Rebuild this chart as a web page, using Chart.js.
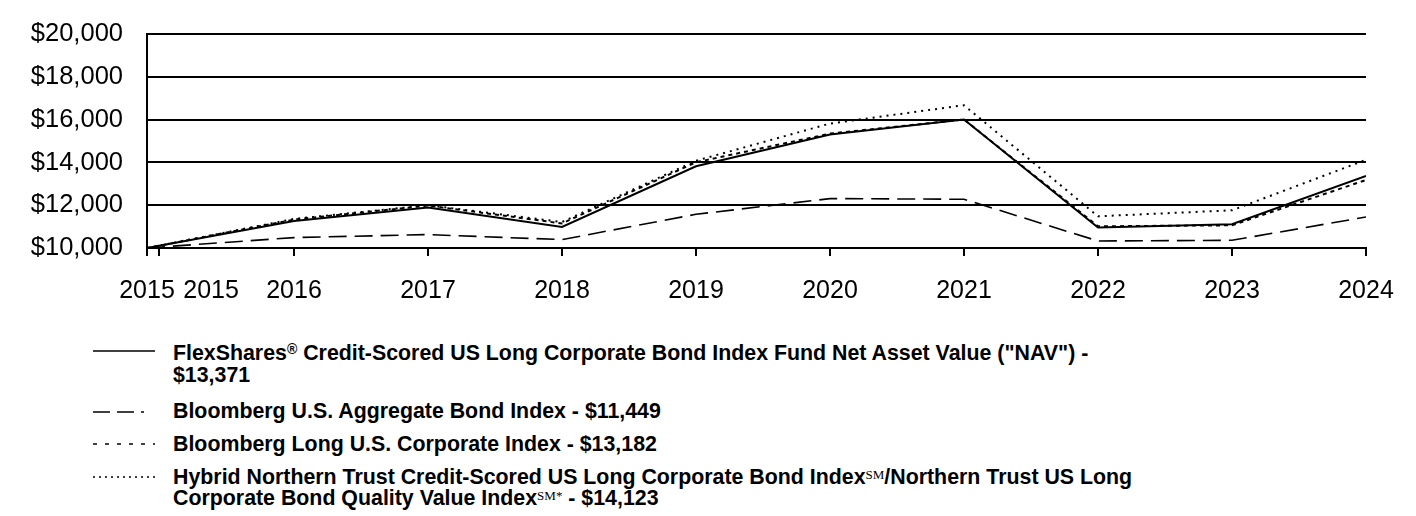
<!DOCTYPE html>
<html>
<head>
<meta charset="utf-8">
<script src="https://cdn.jsdelivr.net/npm/chart.js@4/dist/chart.umd.min.js"></script>
<style>
  html, body { margin: 0; padding: 0; background: #fff; }
  body { width: 1416px; height: 516px; position: relative; overflow: hidden;
         font-family: Arial, "Liberation Sans", sans-serif; color: #000; }
  #wrap { position: absolute; left: 0; top: 0; width: 1416px; height: 320px; }
  .leg { position: absolute; left: 173px; font-weight: bold; font-size: 21.35px; line-height: 21px; white-space: nowrap; }
  .smp { position: absolute; left: 93px; width: 62px; height: 6px; }
  .sm { font-family: "Liberation Serif", "Times New Roman", serif; font-size: 13px; vertical-align: 5px; font-weight: normal; line-height: 0; }
  sup.r { font-size: 14px; vertical-align: 6px; line-height: 0; }
</style>
</head>
<body>
<div id="wrap"><canvas id="c"></canvas></div>

<svg class="smp" style="top:348px" viewBox="0 0 62 6"><line x1="0" y1="3" x2="62" y2="3" stroke="#000" stroke-width="1.6"/></svg>
<div class="leg" style="top:342px; line-height:22px">FlexShares<sup class="r">®</sup> Credit-Scored US Long Corporate Bond Index Fund Net Asset Value ("NAV") -<br>$13,371</div>

<svg class="smp" style="top:409px" viewBox="0 0 62 6"><line x1="0" y1="3" x2="62" y2="3" stroke="#000" stroke-width="1.6" stroke-dasharray="17 7 17 7 3 20"/></svg>
<div class="leg" style="top:401px">Bloomberg U.S. Aggregate Bond Index - $11,449</div>

<svg class="smp" style="top:441px" viewBox="0 0 62 6"><line x1="0" y1="3" x2="62" y2="3" stroke="#000" stroke-width="1.6" stroke-dasharray="4 8"/></svg>
<div class="leg" style="top:434px">Bloomberg Long U.S. Corporate Index - $13,182</div>

<svg class="smp" style="top:474px" viewBox="0 0 62 6"><line x1="0" y1="3" x2="62" y2="3" stroke="#000" stroke-width="1.6" stroke-dasharray="2 4"/></svg>
<div class="leg" style="top:467px">Hybrid Northern Trust Credit-Scored US Long Corporate Bond Index<span class="sm">SM</span>/Northern Trust US Long<br>Corporate Bond Quality Value Index<span class="sm">SM*</span> - $14,123</div>

<script>
// ---- data ----
const xYears = [2014.903, 2016, 2017, 2018, 2019, 2020, 2021, 2022, 2023, 2024];
const navValues = [10000, 11263, 11890, 10983, 13823, 15306, 16008, 10954, 11109, 13371];
const aggregateValues = [10000, 10487, 10627, 10393, 11577, 12311, 12279, 10328, 10360, 11449];
const longCorpValues = [10000, 11329, 11984, 11150, 14010, 15350, 16010, 11015, 11062, 13182];
const hybridValues = [10000, 11360, 12000, 11217, 14080, 15821, 16678, 11483, 11764, 14123];
const tickValues = [2014.903, 2014.993, 2015.381, 2016, 2017, 2018, 2019, 2020, 2021, 2022, 2023, 2024];
const tickLabels = ['2015', '', '2015', '2016', '2017', '2018', '2019', '2020', '2021', '2022', '2023', '2024'];
const seriesNames = [
  'FlexShares® Credit-Scored US Long Corporate Bond Index Fund Net Asset Value ("NAV") - $13,371',
  'Bloomberg U.S. Aggregate Bond Index - $11,449',
  'Bloomberg Long U.S. Corporate Index - $13,182',
  'Hybrid Northern Trust Credit-Scored US Long Corporate Bond Index℠/Northern Trust US Long Corporate Bond Quality Value Index℠* - $14,123'
];

const pts = vals => vals.map((v, i) => ({ x: xYears[i], y: v }));

Chart.defaults.font.family = 'Arial, "Liberation Sans", sans-serif';
Chart.defaults.font.size = 25;
Chart.defaults.color = '#000';

new Chart(document.getElementById('c'), {
  type: 'line',
  data: {
    datasets: [
      { label: seriesNames[0], data: pts(navValues), borderColor: '#000', borderWidth: 2, pointRadius: 0, tension: 0 },
      { label: seriesNames[1], data: pts(aggregateValues), borderColor: '#000', borderWidth: 1.6, borderDash: [18, 8], pointRadius: 0, tension: 0 },
      { label: seriesNames[2], data: pts(longCorpValues), borderColor: '#000', borderWidth: 2, borderDash: [4, 4], pointRadius: 0, tension: 0 },
      { label: seriesNames[3], data: pts(hybridValues), borderColor: '#000', borderWidth: 2, borderDash: [2, 5], pointRadius: 0, tension: 0 }
    ]
  },
  options: {
    responsive: true,
    maintainAspectRatio: false,
    animation: false,
    layout: { padding: { top: 20, right: 50, left: 0, bottom: 0 } },
    plugins: { legend: { display: false }, tooltip: { enabled: false } },
    scales: {
      x: {
        type: 'linear',
        min: xYears[0],
        max: 2024,
        afterBuildTicks: s => { s.ticks = tickValues.map(v => ({ value: v })); },
        afterFit: s => { s.height = 72; },
        ticks: {
          autoSkip: false, maxRotation: 0, padding: 20,
          callback: (v, i) => tickLabels[i]
        },
        grid: {
          drawOnChartArea: false, drawTicks: true, tickLength: 8, lineWidth: 2,
          color: '#000',
          tickColor: ctx => (ctx.tick && Math.abs(ctx.tick.value - 2015.381) < 0.001) ? 'rgba(0,0,0,0)' : '#000'
        },
        border: { display: true, color: '#000', width: 2 }
      },
      y: {
        min: 10000, max: 20000,
        afterFit: s => { s.width = 147; },
        ticks: {
          stepSize: 2000, padding: 24,
          font: { size: 25.5, lineHeight: 0.8 },
          callback: v => '$' + v.toLocaleString('en-US')
        },
        grid: { color: '#000', lineWidth: 2, drawTicks: false },
        border: { display: true, color: '#000', width: 2 }
      }
    }
  }
});
</script>
</body>
</html>
